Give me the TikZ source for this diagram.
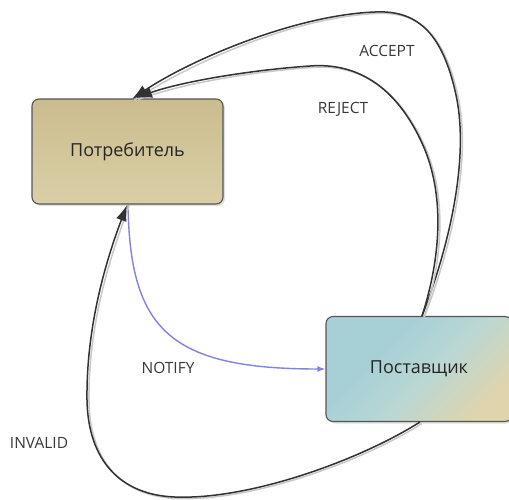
\documentclass[tikz,border=0pt]{standalone}
\usepackage{fontspec}
\setmainfont{Open Sans}
\usetikzlibrary{arrows.meta,shadows}
\definecolor{edge}{RGB}{50,50,50}
\definecolor{shadowc}{RGB}{200,200,200}
\definecolor{notifyc}{RGB}{130,130,228}
\definecolor{consA}{RGB}{202,188,142}
\definecolor{consB}{RGB}{218,207,166}
\definecolor{postA}{RGB}{166,208,214}
\definecolor{postB}{RGB}{186,215,212}
\definecolor{postC}{RGB}{224,212,170}
\definecolor{boxline}{RGB}{85,85,85}
\pgfdeclareverticalshading{postshade}{100bp}{color(0bp)=(postC); color(24bp)=(postC); color(46bp)=(postB); color(64bp)=(postA); color(100bp)=(postA)}
\tikzset{
  statebox/.style={draw=boxline, line width=1.1pt, rounded corners=7pt,
    minimum width=#1, minimum height=105pt, inner sep=0pt,
    font=\fontsize{18}{21}\selectfont, text=black!85,
    drop shadow={shadow xshift=2pt, shadow yshift=-2pt, opacity=0.25}},
  flow/.style={draw=edge, line width=1.5pt,
    -{Latex[length=16pt,width=11pt]},
    preaction={draw=shadowc, -, line width=1.5pt,
      transform canvas={xshift=2pt,yshift=-1.5pt}}},
  notify/.style={draw=notifyc, line width=1.4pt,
    -{Latex[length=8pt,width=6pt]}},
  lbl/.style={font=\fontsize{15.5}{18}\selectfont, text=black!78},
}
\begin{document}
\begin{tikzpicture}[x=1pt,y=-1pt]
\useasboundingbox (0,0) rectangle (509,499);
\node[statebox=191pt, top color=consA, bottom color=consB] (cons) at (127.5,151.5) {Потребитель};
\node[statebox=186pt, shade, shading=postshade, shading angle=45] (post) at (419,369) {Поставщик};

\coordinate (accS) at (422,316);
\coordinate (accE) at (132,99);
\coordinate (rejE) at (136,98);
\coordinate (notS) at (128,205);
\coordinate (invS) at (420,422);
\coordinate (invE) at (127,205);

% ACCEPT
\draw[flow] (accS) .. controls (448,250) and (470,160) .. (456,95)
  .. controls (442,30) and (415,10) .. (375,12)
  .. controls (295,15) and (190,60) .. (accE);
% REJECT
\draw[flow] (accS) .. controls (440,260) and (445,200) .. (425,150)
  .. controls (400,90) and (360,62) .. (310,66)
  .. controls (250,70) and (180,82) .. (rejE);
% NOTIFY
\draw[notify] (notS) .. controls (130,330) and (170,369) .. (post.west);
% INVALID
\draw[flow] (invS) .. controls (360,460) and (250,500) .. (175,497)
  .. controls (120,495) and (88,460) .. (87,400)
  .. controls (86,320) and (110,250) .. (invE);

\node[lbl] (lacc) at (387,51) {ACCEPT};
\node[lbl] (lrej) at (343,109) {REJECT};
\node[lbl] (lnot) at (168,368) {NOTIFY};
\node[lbl] (linv) at (39,443) {INVALID};
\end{tikzpicture}
\end{document}
